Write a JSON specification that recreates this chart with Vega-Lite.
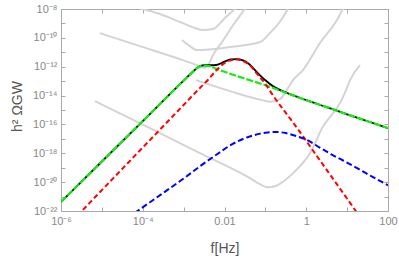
{
  "$schema": "https://vega.github.io/schema/vega-lite/v6.json",
  "width": 327,
  "height": 202,
  "autosize": {"type": "none"},
  "padding": {"left": 61, "top": 9, "right": 11, "bottom": 48},
  "background": "white",
  "config": {
    "view": {"stroke": "#aaaaaa", "strokeWidth": 1},
    "axis": {
      "labelFont": "Liberation Sans",
      "labelFontSize": 11,
      "labelColor": "#888888",
      "domainColor": "#aaaaaa",
      "tickColor": "#aaaaaa",
      "grid": false,
      "titleFont": "Liberation Sans",
      "titleFontSize": 14,
      "titleColor": "#555555",
      "titleFontWeight": "normal",
      "labelOverlap": false,
      "labelFlush": false
    }
  },
  "datasets": {
    "gray": [
      {"curve": "s1", "f": 7.943e-5, "omega": 1.202e-8},
      {"curve": "s1", "f": 1e-4, "omega": 1e-8},
      {"curve": "s1", "f": 2.63e-4, "omega": 4.467e-9},
      {"curve": "s1", "f": 4.677e-4, "omega": 2.399e-9},
      {"curve": "s1", "f": 8.128e-4, "omega": 1.259e-9},
      {"curve": "s1", "f": 1.905e-3, "omega": 4.786e-10},
      {"curve": "s1", "f": 2.951e-3, "omega": 3.467e-10},
      {"curve": "s1", "f": 5.248e-3, "omega": 4.074e-10},
      {"curve": "s1", "f": 1.023e-2, "omega": 2.399e-9},
      {"curve": "s1", "f": 1.778e-2, "omega": 1e-8},
      {"curve": "s1", "f": 1.995e-2, "omega": 1.413e-8},
      {"curve": "s2", "f": 8.913e-6, "omega": 2.138e-10},
      {"curve": "s2", "f": 8.511e-5, "omega": 2.692e-11},
      {"curve": "s2", "f": 9.55e-4, "omega": 2.884e-12},
      {"curve": "s2", "f": 2.138e-3, "omega": 1.288e-12},
      {"curve": "s2", "f": 3.311e-3, "omega": 8.128e-13},
      {"curve": "s2", "f": 4.365e-3, "omega": 2.089e-12},
      {"curve": "s2", "f": 5.248e-3, "omega": 6.457e-12},
      {"curve": "s2", "f": 8.71e-3, "omega": 5.129e-11},
      {"curve": "s2", "f": 1.622e-2, "omega": 7.762e-10},
      {"curve": "s2", "f": 3.162e-2, "omega": 1e-8},
      {"curve": "s2", "f": 3.548e-2, "omega": 1.585e-8},
      {"curve": "s3", "f": 9.12e-4, "omega": 7.079e-11},
      {"curve": "s3", "f": 1.413e-3, "omega": 2.692e-11},
      {"curve": "s3", "f": 2.138e-3, "omega": 1.413e-11},
      {"curve": "s3", "f": 1.349e-2, "omega": 2.291e-11},
      {"curve": "s3", "f": 7.413e-2, "omega": 5.129e-11},
      {"curve": "s3", "f": 0.1288, "omega": 2.138e-10},
      {"curve": "s3", "f": 0.2239, "omega": 1.259e-9},
      {"curve": "s3", "f": 0.3548, "omega": 1e-8},
      {"curve": "s3", "f": 0.3802, "omega": 1.413e-8},
      {"curve": "s4", "f": 2.009e-3, "omega": 1.175e-13},
      {"curve": "s4", "f": 1.365e-2, "omega": 2.042e-14},
      {"curve": "s4", "f": 8.26e-2, "omega": 4.84e-15},
      {"curve": "s4", "f": 0.1297, "omega": 3.8e-15},
      {"curve": "s4", "f": 0.228, "omega": 5.69e-15},
      {"curve": "s4", "f": 0.358, "omega": 3.31e-14},
      {"curve": "s4", "f": 0.474, "omega": 1.175e-13},
      {"curve": "s4", "f": 0.832, "omega": 5.89e-13},
      {"curve": "s4", "f": 2.168, "omega": 4.37e-11},
      {"curve": "s4", "f": 5.65, "omega": 1.74e-9},
      {"curve": "s4", "f": 7.93, "omega": 1e-8},
      {"curve": "s4", "f": 8.87, "omega": 1.62e-8},
      {"curve": "s5", "f": 6.79e-6, "omega": 4.13e-15},
      {"curve": "s5", "f": 1.503e-4, "omega": 5.52e-17},
      {"curve": "s5", "f": 2.518e-3, "omega": 1.016e-18},
      {"curve": "s5", "f": 4.21e-2, "omega": 1.871e-20},
      {"curve": "s5", "f": 7.4e-2, "omega": 7.18e-21},
      {"curve": "s5", "f": 0.1096, "omega": 4.45e-21},
      {"curve": "s5", "f": 0.1722, "omega": 5.21e-21},
      {"curve": "s5", "f": 0.302, "omega": 1.358e-20},
      {"curve": "s5", "f": 0.703, "omega": 1.274e-19},
      {"curve": "s5", "f": 1.236, "omega": 1.016e-18},
      {"curve": "s5", "f": 1.734, "omega": 6.92e-18},
      {"curve": "s5", "f": 2.427, "omega": 5.52e-17},
      {"curve": "s5", "f": 4.51, "omega": 6.07e-16},
      {"curve": "s5", "f": 6.69, "omega": 3.0e-15},
      {"curve": "s5", "f": 9.38, "omega": 2.39e-14},
      {"curve": "s5", "f": 11.75, "omega": 1.183e-13},
      {"curve": "s5", "f": 20.65, "omega": 1.3e-12}
    ],
    "total": [
      {"f": 1e-6, "omega": 4.266e-22},
      {"f": 1e-5, "omega": 2.692e-19},
      {"f": 1e-4, "omega": 1.698e-16},
      {"f": 1e-3, "omega": 1.096e-13},
      {"f": 1.585e-3, "omega": 3.802e-13},
      {"f": 2.239e-3, "omega": 9.12e-13},
      {"f": 3.162e-3, "omega": 1.259e-12},
      {"f": 4.467e-3, "omega": 1.259e-12},
      {"f": 6.31e-3, "omega": 1.318e-12},
      {"f": 1e-2, "omega": 2.239e-12},
      {"f": 1.413e-2, "omega": 3.162e-12},
      {"f": 1.995e-2, "omega": 3.388e-12},
      {"f": 2.818e-2, "omega": 2.754e-12},
      {"f": 3.981e-2, "omega": 1.549e-12},
      {"f": 6.31e-2, "omega": 3.981e-13},
      {"f": 0.1, "omega": 1.148e-13},
      {"f": 0.1585, "omega": 4.169e-14},
      {"f": 0.3162, "omega": 1.66e-14},
      {"f": 1, "omega": 4.786e-15},
      {"f": 3.162, "omega": 1.585e-15},
      {"f": 10, "omega": 5.012e-16},
      {"f": 31.62, "omega": 1.66e-16},
      {"f": 100, "omega": 5.495e-17}
    ],
    "sound": [
      {"f": 1e-6, "omega": 4.266e-22},
      {"f": 1e-5, "omega": 2.692e-19},
      {"f": 1e-4, "omega": 1.698e-16},
      {"f": 3.162e-4, "omega": 4.266e-15},
      {"f": 1e-3, "omega": 1.072e-13},
      {"f": 1.585e-3, "omega": 3.715e-13},
      {"f": 2.239e-3, "omega": 8.913e-13},
      {"f": 3.162e-3, "omega": 1.202e-12},
      {"f": 4.467e-3, "omega": 1.072e-12},
      {"f": 6.31e-3, "omega": 7.079e-13},
      {"f": 1e-2, "omega": 4.467e-13},
      {"f": 3.162e-2, "omega": 1.479e-13},
      {"f": 0.1, "omega": 5.248e-14},
      {"f": 0.3162, "omega": 1.585e-14},
      {"f": 1, "omega": 4.786e-15},
      {"f": 3.162, "omega": 1.585e-15},
      {"f": 10, "omega": 5.012e-16},
      {"f": 31.62, "omega": 1.66e-16},
      {"f": 100, "omega": 5.495e-17}
    ],
    "peak": [
      {"f": 2.512e-6, "omega": 4.786e-23},
      {"f": 1e-5, "omega": 2.818e-21},
      {"f": 1e-4, "omega": 2.512e-18},
      {"f": 1e-3, "omega": 2.239e-15},
      {"f": 2.512e-3, "omega": 3.388e-14},
      {"f": 3.981e-3, "omega": 1.259e-13},
      {"f": 6.31e-3, "omega": 5.623e-13},
      {"f": 1e-2, "omega": 1.778e-12},
      {"f": 1.413e-2, "omega": 2.818e-12},
      {"f": 1.995e-2, "omega": 3.162e-12},
      {"f": 2.818e-2, "omega": 2.512e-12},
      {"f": 3.981e-2, "omega": 1.413e-12},
      {"f": 6.31e-2, "omega": 3.162e-13},
      {"f": 0.1, "omega": 6.31e-14},
      {"f": 0.1585, "omega": 8.913e-15},
      {"f": 0.3162, "omega": 6.31e-16},
      {"f": 0.6918, "omega": 3.162e-17},
      {"f": 1.585, "omega": 1.122e-18},
      {"f": 3.981, "omega": 2.818e-20},
      {"f": 10, "omega": 7.079e-22},
      {"f": 19.95, "omega": 4.467e-23}
    ],
    "broad": [
      {"f": 6.31e-5, "omega": 7.244e-23},
      {"f": 3.162e-4, "omega": 1.778e-21},
      {"f": 1e-3, "omega": 1.778e-20},
      {"f": 2.512e-3, "omega": 1.259e-19},
      {"f": 6.31e-3, "omega": 7.943e-19},
      {"f": 1.585e-2, "omega": 4.467e-18},
      {"f": 3.981e-2, "omega": 1.413e-17},
      {"f": 0.1, "omega": 2.63e-17},
      {"f": 0.1778, "omega": 3.02e-17},
      {"f": 0.3162, "omega": 2.512e-17},
      {"f": 0.631, "omega": 1.413e-17},
      {"f": 1, "omega": 8.913e-18},
      {"f": 2.138, "omega": 2.512e-18},
      {"f": 3.981, "omega": 8.913e-19},
      {"f": 7.943, "omega": 3.162e-19},
      {"f": 19.95, "omega": 7.586e-20},
      {"f": 39.81, "omega": 2.512e-20},
      {"f": 100, "omega": 6.026e-21}
    ]
  },
  "layer": [
    {
      "data": {"name": "gray"},
      "mark": {"type": "line", "color": "#d4d4d4", "strokeWidth": 2, "interpolate": "monotone", "clip": true},
      "encoding": {
        "x": {
          "field": "f", "type": "quantitative",
          "scale": {"type": "log", "domain": [1e-6, 100], "nice": false},
          "axis": {
            "orient": "bottom",
            "values": [1e-6, 1e-5, 1e-4, 1e-3, 1e-2, 1e-1, 1, 10, 100],
            "tickSize": -4,
            "labelPadding": 8,
            "labelExpr": "round(log(datum.value)/LN10) == -6 ? '10⁻⁶' : round(log(datum.value)/LN10) == -4 ? '10⁻⁴' : round(log(datum.value)/LN10) == -2 ? '0.01' : round(log(datum.value)/LN10) == 0 ? '1' : round(log(datum.value)/LN10) == 2 ? '100' : ''",
            "title": "f[Hz]",
            "titleY": 41,
            "titleBaseline": "alphabetic"
          }
        },
        "y": {
          "field": "omega", "type": "quantitative",
          "scale": {"type": "log", "domain": [1e-22, 1e-8], "nice": false},
          "axis": {
            "orient": "left",
            "values": [1e-22, 1e-21, 1e-20, 1e-19, 1e-18, 1e-17, 1e-16, 1e-15, 1e-14, 1e-13, 1e-12, 1e-11, 1e-10, 1e-9, 1e-8],
            "tickSize": -4,
            "labelPadding": 8,
            "labelExpr": "round(log(datum.value)/LN10) == -8 ? '10⁻⁸' : round(log(datum.value)/LN10) == -10 ? '10⁻¹⁰' : round(log(datum.value)/LN10) == -12 ? '10⁻¹²' : round(log(datum.value)/LN10) == -14 ? '10⁻¹⁴' : round(log(datum.value)/LN10) == -16 ? '10⁻¹⁶' : round(log(datum.value)/LN10) == -18 ? '10⁻¹⁸' : round(log(datum.value)/LN10) == -20 ? '10⁻²⁰' : round(log(datum.value)/LN10) == -22 ? '10⁻²²' : ''",
            "title": "h² ΩGW",
            "titleX": -40,
            "titleY": 97,
            "titleAngle": -90,
            "titleAlign": "center",
            "titleBaseline": "alphabetic"
          }
        },
        "detail": {"field": "curve"}
      }
    },
    {
      "data": {"name": "total"},
      "mark": {"type": "line", "color": "#000000", "strokeWidth": 1.8, "interpolate": "monotone", "clip": true},
      "encoding": {
        "x": {
          "field": "f", "type": "quantitative",
          "axis": {"orient": "top", "values": [1e-6, 1e-5, 1e-4, 1e-3, 1e-2, 1e-1, 1, 10, 100], "tickSize": -4, "labels": false, "title": null}
        },
        "y": {
          "field": "omega", "type": "quantitative",
          "axis": {"orient": "right", "values": [1e-22, 1e-21, 1e-20, 1e-19, 1e-18, 1e-17, 1e-16, 1e-15, 1e-14, 1e-13, 1e-12, 1e-11, 1e-10, 1e-9, 1e-8], "tickSize": -4, "labels": false, "title": null}
        }
      }
    },
    {
      "data": {"name": "sound"},
      "mark": {"type": "line", "color": "#11ee11", "strokeWidth": 2.2, "strokeDash": [7, 2], "interpolate": "monotone", "clip": true},
      "encoding": {
        "x": {"field": "f", "type": "quantitative", "axis": null},
        "y": {"field": "omega", "type": "quantitative", "axis": null}
      }
    },
    {
      "data": {"name": "peak"},
      "mark": {"type": "line", "color": "#ff0000", "strokeWidth": 2, "strokeDash": [5, 3], "interpolate": "monotone", "clip": true},
      "encoding": {
        "x": {"field": "f", "type": "quantitative", "axis": null},
        "y": {"field": "omega", "type": "quantitative", "axis": null}
      }
    },
    {
      "data": {"name": "broad"},
      "mark": {"type": "line", "color": "#0000ff", "strokeWidth": 2, "strokeDash": [6, 3], "interpolate": "monotone", "clip": true},
      "encoding": {
        "x": {"field": "f", "type": "quantitative", "axis": null},
        "y": {"field": "omega", "type": "quantitative", "axis": null}
      }
    }
  ],
  "resolve": {"axis": {"x": "independent", "y": "independent"}}
}
